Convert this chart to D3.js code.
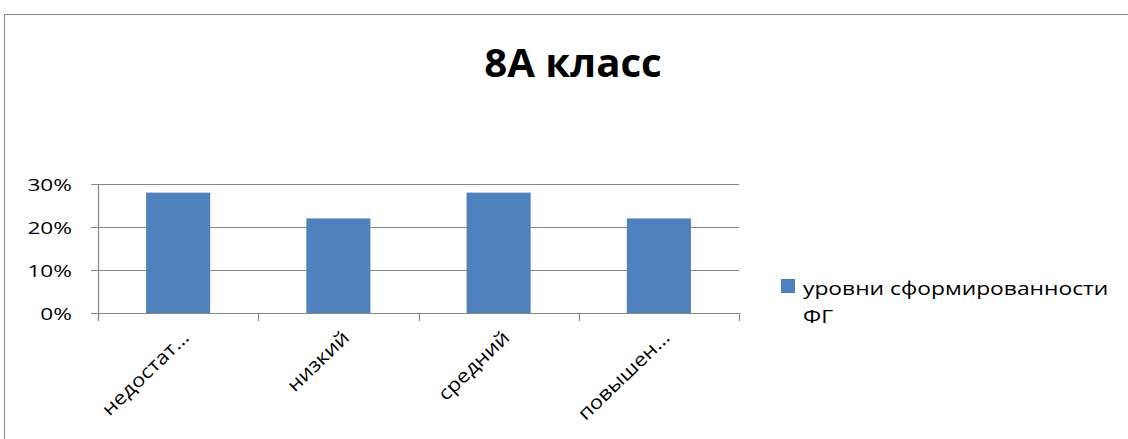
<!DOCTYPE html>
<html>
<head>
<meta charset="utf-8">
<script src="https://cdn.jsdelivr.net/npm/d3@7"></script>
<style>
  body { margin: 0; background: #fff; }
  svg { display: block; font-family: "Open Sans", "Noto Sans", sans-serif; }
</style>
</head>
<body>
<div id="chart"></div>
<script>
// Данные диаграммы
const categories = ["недостат…", "низкий", "средний", "повышен…"];
const values = [0.28, 0.22, 0.28, 0.22];
const yTicks = [0, 0.1, 0.2, 0.3];
const seriesName = ["уровни сформированности", "ФГ"];
const chartTitle = "8А класс";

const width = 1128, height = 439;
const plot = { left: 98, right: 739, top: 184, bottom: 313 };

// растянуть текст по горизонтали (картинка шире шрифта)
function stretch(selection, factor) {
    selection.each(function () {
        const w = this.getComputedTextLength();
        d3.select(this)
            .attr("textLength", w * factor)
            .attr("lengthAdjust", "spacingAndGlyphs");
    });
}

const svg = d3.select("#chart")
    .append("svg")
    .attr("width", width)
    .attr("height", height);

// рамка диаграммы
svg.append("rect")
    .attr("x", 4.5).attr("y", 14.5)
    .attr("width", width + 10).attr("height", height + 10)
    .attr("fill", "white")
    .attr("stroke", "#8c8c8c")
    .attr("stroke-width", 1);

// Заголовок
svg.append("text")
    .attr("x", 573).attr("y", 77)
    .attr("text-anchor", "middle")
    .attr("font-size", 39)
    .attr("font-weight", "bold")
    .attr("fill", "#000")
    .text(chartTitle)
    .call(stretch, 1.03);

const xScale = d3.scaleBand()
    .domain(categories)
    .range([plot.left, plot.right])
    .paddingInner(0.6)
    .paddingOuter(0.3);

const yScale = d3.scaleLinear()
    .domain([0, 0.3])
    .range([plot.bottom, plot.top]);

// сетка
svg.append("g")
    .selectAll("line")
    .data(yTicks)
    .enter()
    .append("line")
    .attr("x1", plot.left - 7)
    .attr("x2", plot.right)
    .attr("y1", d => Math.round(yScale(d)) + 0.5)
    .attr("y2", d => Math.round(yScale(d)) + 0.5)
    .attr("stroke", "#878787")
    .attr("stroke-width", 1.2);

// подписи оси Y
svg.append("g")
    .selectAll("text")
    .data(yTicks)
    .enter()
    .append("text")
    .attr("x", 72)
    .attr("y", d => yScale(d) + 7)
    .attr("text-anchor", "end")
    .attr("font-size", 17)
    .attr("fill", "#000")
    .text(d => d3.format(".0%")(d))
    .call(stretch, 1.33);

// ось Y
svg.append("line")
    .attr("x1", plot.left + 0.5).attr("x2", plot.left + 0.5)
    .attr("y1", plot.top).attr("y2", plot.bottom + 7)
    .attr("stroke", "#878787").attr("stroke-width", 1.2);

// засечки оси X
const step = (plot.right - plot.left) / categories.length;
svg.append("g")
    .selectAll("line")
    .data(d3.range(categories.length + 1))
    .enter()
    .append("line")
    .attr("x1", i => Math.round(plot.left + i * step) + 0.5)
    .attr("x2", i => Math.round(plot.left + i * step) + 0.5)
    .attr("y1", plot.bottom)
    .attr("y2", plot.bottom + 8)
    .attr("stroke", "#878787").attr("stroke-width", 1.2);

// столбцы
svg.append("g")
    .selectAll("rect")
    .data(values)
    .enter()
    .append("rect")
    .attr("x", (d, i) => xScale(categories[i]))
    .attr("y", d => yScale(d))
    .attr("width", xScale.bandwidth())
    .attr("height", d => plot.bottom - yScale(d))
    .attr("fill", "#4F81BD");

// подписи категорий
svg.append("g")
    .selectAll("text")
    .data(categories)
    .enter()
    .append("text")
    .attr("text-anchor", "end")
    .attr("font-size", 19)
    .attr("fill", "#000")
    .attr("transform", d => {
        const cx = xScale(d) + xScale.bandwidth() / 2 + 12;
        return `translate(${cx}, ${plot.bottom + 26}) rotate(-44)`;
    })
    .text(d => d)
    .call(stretch, 1.15);

// легенда
svg.append("rect")
    .attr("x", 781).attr("y", 279)
    .attr("width", 14).attr("height", 14)
    .attr("fill", "#4F81BD");

svg.append("g")
    .selectAll("text")
    .data(seriesName)
    .enter()
    .append("text")
    .attr("x", 803)
    .attr("y", (d, i) => 295 + i * 28)
    .attr("font-size", 19)
    .attr("fill", "#000")
    .text(d => d)
    .call(stretch, 1.2);
</script>
</body>
</html>
